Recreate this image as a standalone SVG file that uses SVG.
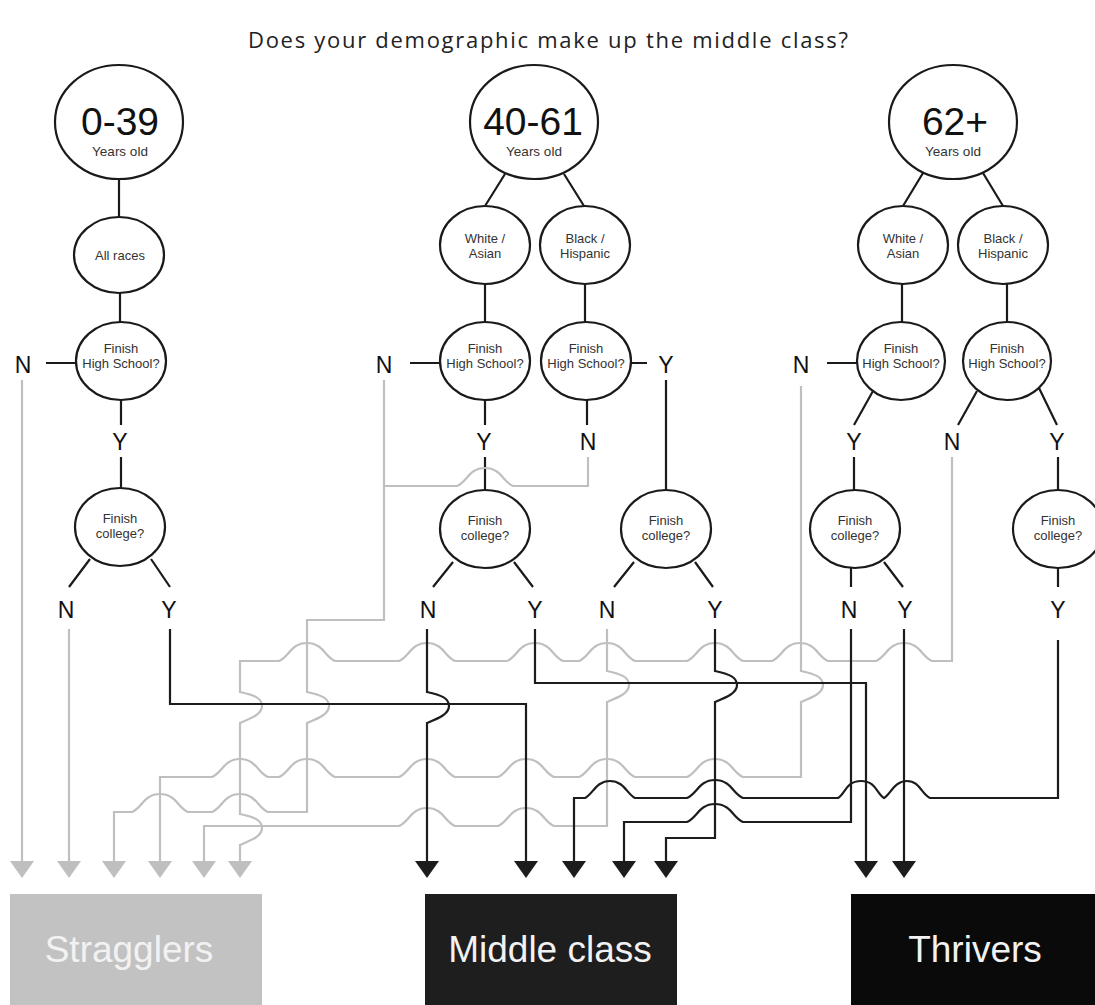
<svg xmlns="http://www.w3.org/2000/svg" width="1095" height="1005" viewBox="0 0 1095 1005">
<style>
text{font-family:"Liberation Sans",Arial,sans-serif;text-anchor:middle}
.title{font-family:"Open Sans","Liberation Sans",sans-serif;font-size:22px;fill:#222}
.node{fill:#fff;stroke:#1a1a1a;stroke-width:2.2}
.big{font-size:39px;fill:#111}
.sub{font-size:13.5px;fill:#333}
.sm{font-size:13px;fill:#333}
.yn{font-size:23px;fill:#111}
.e{stroke:#1a1a1a;stroke-width:2.2;fill:none}
.g{stroke:#bfbfbf;stroke-width:2.2;fill:none;marker-end:url(#ag)}
.b{stroke:#1c1c1c;stroke-width:2.2;fill:none;marker-end:url(#ab)}
.gn{stroke:#bfbfbf;stroke-width:2.2;fill:none}
.box{font-size:37px;fill:#f2f2f2}
</style>
<defs>
<marker id="ag" viewBox="0 0 17 24" refX="0" refY="12" markerWidth="17" markerHeight="24" markerUnits="userSpaceOnUse" orient="auto"><path d="M0,0 L17,12 L0,24 Z" fill="#bfbfbf"/></marker>
<marker id="ab" viewBox="0 0 17 24" refX="0" refY="12" markerWidth="17" markerHeight="24" markerUnits="userSpaceOnUse" orient="auto"><path d="M0,0 L17,12 L0,24 Z" fill="#1c1c1c"/></marker>
</defs>
<rect width="1095" height="1005" fill="#fff"/>
<text class="title" x="548" y="48" textLength="600" lengthAdjust="spacing">Does your demographic make up the middle class?</text>

<g id="edges">
<path class="e" d="M119,179 L119,217 M120,293 L120,322 M121,400 L121,425 M121,457 L121,488 M90,559 L69,587 M151,559 L170,587 M46,363 L76,363"/>
<path class="e" d="M505,174 L485,206 M564,174 L584,206 M485,284 L485,322 M585,284 L585,322 M410,363 L440,363 M631,363 L647,363 M485,400 L485,425 M587,400 L587,425 M485,457 L485,490 M453,562 L433,587 M514,562 L533,587 M666,380 L666,490 M634,562 L614,587 M695,562 L713,587"/>
<path class="e" d="M923,173 L903,206 M983,173 L1003,206 M902,284 L902,322 M1007,284 L1007,322 M827,363 L857,363 M873,391 L854,425 M977,391 L958,425 M1039,388 L1057,425 M854,457 L854,490 M851,568 L851,587 M884,562 L903,587 M1058,457 L1058,490 M1058,568 L1058,587"/>
</g>

<g id="connectors">
<path class="g" d="M22,380 L22,861"/>
<path class="g" d="M69,629 L69,861"/>
<path class="gn" d="M588,457 L588,486 L513,486 C503,482 501,468 485,468 C469,468 467,482 457,486 L384,486"/>
<path class="g" d="M384,380 L384,620 L307,620 L307,692 C321,695 329,698 329,706 C329,714 319,718 307,723 L307,812 L268,812 C258,808 256,794 240,794 C224,794 222,808 212,812 L188,812 C178,808 176,794 160,794 C144,794 142,808 132,812 L114,812 L114,861"/>
<path class="g" d="M952,457 L952,661 L932,661 C922,657 920,643 904,643 C888,643 886,657 876,661 L828,661 C818,657 816,643 800,643 C784,643 782,657 772,661 L743,661 C733,657 731,643 715,643 C699,643 697,657 687,661 L635,661 C625,657 623,643 607,643 C591,643 589,657 579,661 L563,661 C553,657 551,643 535,643 C519,643 517,657 507,661 L455,661 C445,657 443,643 427,643 C411,643 409,657 399,661 L335,661 C325,657 323,643 307,643 C291,643 289,657 279,661 L240,661 L240,692 C254,695 262,698 262,706 C262,714 252,718 240,723 L240,814 C254,817 262,820 262,828 C262,836 252,840 240,845 L240,861"/>
<path class="g" d="M801,386 L801,671 C815,674 823,677 823,685 C823,693 813,697 801,702 L801,777 L743,777 C733,773 731,759 715,759 C699,759 697,773 687,777 L635,777 C625,773 623,759 607,759 C591,759 589,773 579,777 L554,777 C544,773 542,759 526,759 C510,759 508,773 498,777 L455,777 C445,773 443,759 427,759 C411,759 409,773 399,777 L335,777 C325,773 323,759 307,759 C291,759 289,773 279,777 L268,777 C258,773 256,759 240,759 C224,759 222,773 212,777 L160,777 L160,861"/>
<path class="g" d="M607,629 L607,671 C621,674 629,677 629,685 C629,693 619,697 607,702 L607,826 L554,826 C544,822 542,808 526,808 C510,808 508,822 498,826 L455,826 C445,822 443,808 427,808 C411,808 409,822 399,826 L204,826 L204,861"/>
<path class="b" d="M170,629 L170,704 L526,704 L526,861"/>
<path class="b" d="M427,629 L427,692 C441,695 449,698 449,706 C449,714 439,718 427,723 L427,861"/>
<path class="b" d="M535,629 L535,683 L866,683 L866,861"/>
<path class="b" d="M715,629 L715,671 C729,674 737,677 737,685 C737,693 727,697 715,702 L715,838 L666,838 L666,861"/>
<path class="b" d="M851,629 L851,822 L743,822 C733,818 731,804 715,804 C699,804 697,818 687,822 L624,822 L624,861"/>
<path class="b" d="M904,629 L904,861"/>
<path class="b" d="M1058,640 L1058,798 L930,798 C921,794 920,781 907,781 C894,781 891,794 884,798 C877,794 876,781 861,781 C846,781 845,794 838,798 L743,798 C733,794 731,780 715,780 C699,780 697,794 687,798 L635,798 C627,794 624,781 610,781 C596,781 593,794 585,798 L574,798 L574,861"/>
</g>

<g id="yn-labels">
<text class="yn" x="23" y="373">N</text>
<text class="yn" x="120" y="450">Y</text>
<text class="yn" x="66" y="618">N</text>
<text class="yn" x="169" y="618">Y</text>
<text class="yn" x="384" y="373">N</text>
<text class="yn" x="666" y="373">Y</text>
<text class="yn" x="484" y="450">Y</text>
<text class="yn" x="588" y="450">N</text>
<text class="yn" x="428" y="618">N</text>
<text class="yn" x="535" y="618">Y</text>
<text class="yn" x="607" y="618">N</text>
<text class="yn" x="715" y="618">Y</text>
<text class="yn" x="801" y="373">N</text>
<text class="yn" x="854" y="450">Y</text>
<text class="yn" x="952" y="450">N</text>
<text class="yn" x="1057" y="450">Y</text>
<text class="yn" x="849" y="618">N</text>
<text class="yn" x="905" y="618">Y</text>
<text class="yn" x="1058" y="618">Y</text>
</g>

<g id="age-0-39"><ellipse class="node" cx="119" cy="122" rx="64" ry="57"/><text class="big" x="120" y="135">0-39</text><text class="sub" x="120" y="156">Years old</text></g>
<g id="age-40-61"><ellipse class="node" cx="534" cy="122" rx="64" ry="57"/><text class="big" x="533" y="135">40-61</text><text class="sub" x="534" y="156">Years old</text></g>
<g id="age-62"><ellipse class="node" cx="953" cy="122" rx="64" ry="57"/><text class="big" x="955" y="135">62+</text><text class="sub" x="953" y="156">Years old</text></g>

<g id="all-races"><ellipse class="node" cx="119" cy="255" rx="45" ry="38"/><text class="sm" x="120" y="260">All races</text></g>
<g id="hs-0"><ellipse class="node" cx="121" cy="361" rx="45" ry="39"/><text class="sm" x="121" y="353">Finish</text><text class="sm" x="121" y="368">High School?</text></g>
<g id="col-0"><ellipse class="node" cx="120" cy="527" rx="45" ry="39"/><text class="sm" x="120" y="523">Finish</text><text class="sm" x="120" y="538">college?</text></g>

<g id="wa-1"><ellipse class="node" cx="485" cy="245" rx="45" ry="39"/><text class="sm" x="485" y="243">White /</text><text class="sm" x="485" y="258">Asian</text></g>
<g id="bh-1"><ellipse class="node" cx="585" cy="245" rx="45" ry="39"/><text class="sm" x="585" y="243">Black /</text><text class="sm" x="585" y="258">Hispanic</text></g>
<g id="hs-1w"><ellipse class="node" cx="485" cy="361" rx="45" ry="39"/><text class="sm" x="485" y="353">Finish</text><text class="sm" x="485" y="368">High School?</text></g>
<g id="hs-1b"><ellipse class="node" cx="586" cy="361" rx="45" ry="39"/><text class="sm" x="586" y="353">Finish</text><text class="sm" x="586" y="368">High School?</text></g>
<g id="col-1w"><ellipse class="node" cx="485" cy="529" rx="45" ry="39"/><text class="sm" x="485" y="525">Finish</text><text class="sm" x="485" y="540">college?</text></g>
<g id="col-1b"><ellipse class="node" cx="666" cy="529" rx="45" ry="39"/><text class="sm" x="666" y="525">Finish</text><text class="sm" x="666" y="540">college?</text></g>

<g id="wa-2"><ellipse class="node" cx="903" cy="245" rx="45" ry="39"/><text class="sm" x="903" y="243">White /</text><text class="sm" x="903" y="258">Asian</text></g>
<g id="bh-2"><ellipse class="node" cx="1003" cy="245" rx="45" ry="39"/><text class="sm" x="1003" y="243">Black /</text><text class="sm" x="1003" y="258">Hispanic</text></g>
<g id="hs-2w"><ellipse class="node" cx="901" cy="361" rx="44" ry="39"/><text class="sm" x="901" y="353">Finish</text><text class="sm" x="901" y="368">High School?</text></g>
<g id="hs-2b"><ellipse class="node" cx="1007" cy="361" rx="44" ry="39"/><text class="sm" x="1007" y="353">Finish</text><text class="sm" x="1007" y="368">High School?</text></g>
<g id="col-2w"><ellipse class="node" cx="855" cy="529" rx="45" ry="39"/><text class="sm" x="855" y="525">Finish</text><text class="sm" x="855" y="540">college?</text></g>
<g id="col-2b"><ellipse class="node" cx="1058" cy="529" rx="45" ry="39"/><text class="sm" x="1058" y="525">Finish</text><text class="sm" x="1058" y="540">college?</text></g>

<g id="stragglers"><rect x="10" y="894" width="252" height="111" fill="#c2c2c2"/><text class="box" x="129" y="962">Stragglers</text></g>
<g id="middle-class"><rect x="425" y="894" width="252" height="111" fill="#1e1e1e"/><text class="box" x="550" y="962">Middle class</text></g>
<g id="thrivers"><rect x="851" y="894" width="244" height="111" fill="#0a0a0a"/><text class="box" x="975" y="962">Thrivers</text></g>
</svg>
